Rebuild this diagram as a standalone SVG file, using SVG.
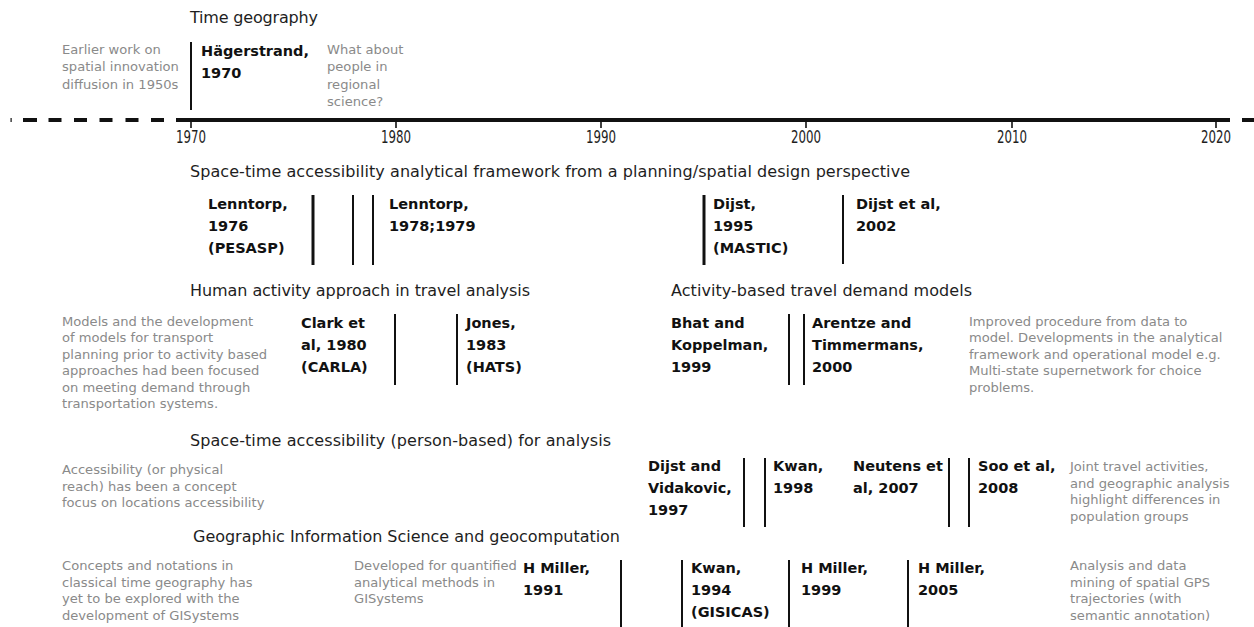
<svg xmlns="http://www.w3.org/2000/svg" width="1254" height="627" viewBox="0 0 1254 627">
  <style>
    text { font-family: "DejaVu Sans", "Liberation Sans", sans-serif; }
    .title { font-size: 16px; fill: #1e1e1e; }
    .note { font-size: 13.1px; fill: #8a8a8a; }
    .ref { font-size: 14.5px; font-weight: bold; fill: #111; }
    .year { font-family: "DejaVu Sans Condensed", "DejaVu Sans", sans-serif; font-size: 17px; fill: #1e1e1e; text-anchor: middle; }
    .bar { stroke: #111; stroke-width: 2; fill: none; }
    .bar.heavy { stroke-width: 3; }
    .tick { stroke: #111; stroke-width: 1.6; }
  </style>

  <!-- timeline axis -->
  <g id="timeline">
    <path d="M10.5 120h1.2 M23 120h14 M48.5 120h13 M74 120h13 M99.5 120h13 M125.5 120h13 M151 120h13 M1242 120h12" stroke="#111" stroke-width="4" fill="none"/>
    <line x1="176" y1="120" x2="1230" y2="120" stroke="#111" stroke-width="4"/>
    <line class="tick" x1="191" y1="120" x2="191" y2="128"/>
    <line class="tick" x1="396" y1="120" x2="396" y2="128"/>
    <line class="tick" x1="601" y1="120" x2="601" y2="128"/>
    <line class="tick" x1="806" y1="120" x2="806" y2="128"/>
    <line class="tick" x1="1012" y1="120" x2="1012" y2="128"/>
    <line class="tick" x1="1216" y1="120" x2="1216" y2="128"/>
    <text class="year" x="191" y="143" textLength="30" lengthAdjust="spacingAndGlyphs">1970</text>
    <text class="year" x="396" y="143" textLength="30" lengthAdjust="spacingAndGlyphs">1980</text>
    <text class="year" x="601" y="143" textLength="30" lengthAdjust="spacingAndGlyphs">1990</text>
    <text class="year" x="806" y="143" textLength="30" lengthAdjust="spacingAndGlyphs">2000</text>
    <text class="year" x="1012" y="143" textLength="30" lengthAdjust="spacingAndGlyphs">2010</text>
    <text class="year" x="1216" y="143" textLength="30" lengthAdjust="spacingAndGlyphs">2020</text>
  </g>

  <!-- theme headings -->
  <g id="headings">
    <text class="title" x="190" y="23" textLength="128" lengthAdjust="spacing">Time geography</text>
    <text class="title" x="190" y="177" textLength="720" lengthAdjust="spacing">Space-time accessibility analytical framework from a planning/spatial design perspective</text>
    <text class="title" x="190" y="296" textLength="340" lengthAdjust="spacing">Human activity approach in travel analysis</text>
    <text class="title" x="671" y="296" textLength="301" lengthAdjust="spacing">Activity-based travel demand models</text>
    <text class="title" x="190" y="446" textLength="421" lengthAdjust="spacing">Space-time accessibility (person-based) for analysis</text>
    <text class="title" x="193" y="542" textLength="427" lengthAdjust="spacing">Geographic Information Science and geocomputation</text>
  </g>

  <!-- context notes -->
  <g id="note-innovation-diffusion">
    <text class="note" x="62" y="54">Earlier work on</text>
    <text class="note" x="62" y="71.3">spatial innovation</text>
    <text class="note" x="62" y="88.6">diffusion in 1950s</text>
  </g>
  <g id="note-regional-science">
    <text class="note" x="327" y="54">What about</text>
    <text class="note" x="327" y="71.3">people in</text>
    <text class="note" x="327" y="88.6">regional</text>
    <text class="note" x="327" y="105.9">science?</text>
  </g>
  <g id="note-transport-models">
    <text class="note" x="62" y="325.5">Models and the development</text>
    <text class="note" x="62" y="342">of models for transport</text>
    <text class="note" x="62" y="358.5">planning prior to activity based</text>
    <text class="note" x="62" y="375">approaches had been focused</text>
    <text class="note" x="62" y="391.5">on meeting demand through</text>
    <text class="note" x="62" y="408">transportation systems.</text>
  </g>
  <g id="note-improved-procedure">
    <text class="note" x="969" y="325.5">Improved procedure from data to</text>
    <text class="note" x="969" y="342">model. Developments in the analytical</text>
    <text class="note" x="969" y="358.5">framework and operational model e.g.</text>
    <text class="note" x="969" y="375">Multi-state supernetwork for choice</text>
    <text class="note" x="969" y="391.5">problems.</text>
  </g>
  <g id="note-accessibility">
    <text class="note" x="62" y="474">Accessibility (or physical</text>
    <text class="note" x="62" y="490.5">reach) has been a concept</text>
    <text class="note" x="62" y="507">focus on locations accessibility</text>
  </g>
  <g id="note-joint-travel">
    <text class="note" x="1070" y="471">Joint travel activities,</text>
    <text class="note" x="1070" y="487.5">and geographic analysis</text>
    <text class="note" x="1070" y="504">highlight differences in</text>
    <text class="note" x="1070" y="520.5">population groups</text>
  </g>
  <g id="note-classical-concepts">
    <text class="note" x="62" y="570">Concepts and notations in</text>
    <text class="note" x="62" y="586.5">classical time geography has</text>
    <text class="note" x="62" y="603">yet to be explored with the</text>
    <text class="note" x="62" y="619.5">development of GISystems</text>
  </g>
  <g id="note-quantified-methods">
    <text class="note" x="354" y="570">Developed for quantified</text>
    <text class="note" x="354" y="586.5">analytical methods in</text>
    <text class="note" x="354" y="603">GISystems</text>
  </g>
  <g id="note-gps-mining">
    <text class="note" x="1070" y="570">Analysis and data</text>
    <text class="note" x="1070" y="586.5">mining of spatial GPS</text>
    <text class="note" x="1070" y="603">trajectories (with</text>
    <text class="note" x="1070" y="619.5">semantic annotation)</text>
  </g>

  <!-- publications -->
  <g id="hagerstrand-1970">
    <text class="ref" x="201" y="56">Hägerstrand,</text>
    <text class="ref" x="201" y="78">1970</text>
  </g>
  <g id="lenntorp-1976">
    <text class="ref" x="208" y="209">Lenntorp,</text>
    <text class="ref" x="208" y="231">1976</text>
    <text class="ref" x="208" y="253">(PESASP)</text>
  </g>
  <g id="lenntorp-1978-1979">
    <text class="ref" x="389" y="209">Lenntorp,</text>
    <text class="ref" x="389" y="231">1978;1979</text>
  </g>
  <g id="dijst-1995">
    <text class="ref" x="713" y="209">Dijst,</text>
    <text class="ref" x="713" y="231">1995</text>
    <text class="ref" x="713" y="253">(MASTIC)</text>
  </g>
  <g id="dijst-2002">
    <text class="ref" x="856" y="209">Dijst et al,</text>
    <text class="ref" x="856" y="231">2002</text>
  </g>
  <g id="clark-1980">
    <text class="ref" x="301" y="328">Clark et</text>
    <text class="ref" x="301" y="350">al, 1980</text>
    <text class="ref" x="301" y="372">(CARLA)</text>
  </g>
  <g id="jones-1983">
    <text class="ref" x="466" y="328">Jones,</text>
    <text class="ref" x="466" y="350">1983</text>
    <text class="ref" x="466" y="372">(HATS)</text>
  </g>
  <g id="bhat-koppelman-1999">
    <text class="ref" x="671" y="328">Bhat and</text>
    <text class="ref" x="671" y="350">Koppelman,</text>
    <text class="ref" x="671" y="372">1999</text>
  </g>
  <g id="arentze-timmermans-2000">
    <text class="ref" x="812" y="328">Arentze and</text>
    <text class="ref" x="812" y="350">Timmermans,</text>
    <text class="ref" x="812" y="372">2000</text>
  </g>
  <g id="dijst-vidakovic-1997">
    <text class="ref" x="648" y="471">Dijst and</text>
    <text class="ref" x="648" y="493">Vidakovic,</text>
    <text class="ref" x="648" y="515">1997</text>
  </g>
  <g id="kwan-1998">
    <text class="ref" x="773" y="471">Kwan,</text>
    <text class="ref" x="773" y="493">1998</text>
  </g>
  <g id="neutens-2007">
    <text class="ref" x="853" y="471">Neutens et</text>
    <text class="ref" x="853" y="493">al, 2007</text>
  </g>
  <g id="soo-2008">
    <text class="ref" x="978" y="471">Soo et al,</text>
    <text class="ref" x="978" y="493">2008</text>
  </g>
  <g id="miller-1991">
    <text class="ref" x="523" y="573">H Miller,</text>
    <text class="ref" x="523" y="595">1991</text>
  </g>
  <g id="kwan-1994">
    <text class="ref" x="691" y="573">Kwan,</text>
    <text class="ref" x="691" y="595">1994</text>
    <text class="ref" x="691" y="617">(GISICAS)</text>
  </g>
  <g id="miller-1999">
    <text class="ref" x="801" y="573">H Miller,</text>
    <text class="ref" x="801" y="595">1999</text>
  </g>
  <g id="miller-2005">
    <text class="ref" x="918" y="573">H Miller,</text>
    <text class="ref" x="918" y="595">2005</text>
  </g>

  <!-- year markers tying each publication to its year -->
  <g id="connectors">
    <line class="bar" x1="191" y1="42" x2="191" y2="110"/>
    <line class="bar heavy" x1="313" y1="195" x2="313" y2="265"/>
    <line class="bar" x1="353" y1="195" x2="353" y2="265"/>
    <line class="bar" x1="373" y1="195" x2="373" y2="265"/>
    <line class="bar heavy" x1="704" y1="195" x2="704" y2="265"/>
    <line class="bar" x1="843" y1="195" x2="843" y2="264"/>
    <line class="bar" x1="395" y1="314" x2="395" y2="385"/>
    <line class="bar" x1="457" y1="314" x2="457" y2="385"/>
    <line class="bar" x1="789" y1="314" x2="789" y2="385"/>
    <line class="bar" x1="804" y1="314" x2="804" y2="385"/>
    <line class="bar" x1="744" y1="458" x2="744" y2="527"/>
    <line class="bar" x1="765" y1="458" x2="765" y2="527"/>
    <line class="bar" x1="949" y1="458" x2="949" y2="527"/>
    <line class="bar" x1="969" y1="458" x2="969" y2="527"/>
    <line class="bar" x1="621" y1="560" x2="621" y2="627"/>
    <line class="bar" x1="682" y1="560" x2="682" y2="627"/>
    <line class="bar" x1="789" y1="560" x2="789" y2="627"/>
    <line class="bar" x1="908" y1="560" x2="908" y2="627"/>
  </g>
</svg>
